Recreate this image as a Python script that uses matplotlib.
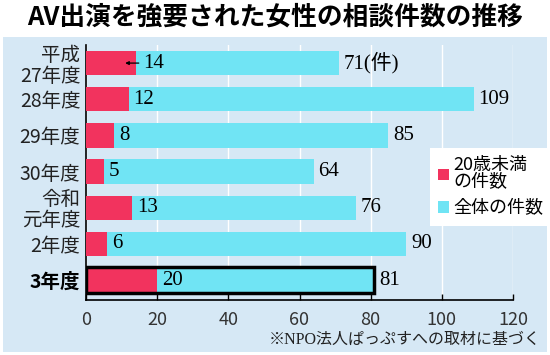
import matplotlib
matplotlib.use('Agg')
import matplotlib.pyplot as plt
from matplotlib.patches import Rectangle, Patch
import numpy as np

# data
years = ['平成\n27年度', '28年度', '29年度', '30年度', '令和\n元年度', '2年度', '3年度']
under20 = [14, 12, 8, 5, 13, 6, 20]
total = [71, 109, 85, 64, 76, 90, 81]
xticks = [0, 20, 40, 60, 80, 100, 120]

PINK = '#f2335e'
CYAN = '#70e4f4'
BG = '#d6e8f5'
JP = ['Noto Sans CJK JP', 'DejaVu Sans']
SERIF = ['Liberation Serif', 'Noto Sans CJK JP']

plt.rcParams['font.family'] = JP

fig = plt.figure(figsize=(5.5, 3.55), dpi=100)
fig.patch.set_facecolor('white')
# light blue panel behind the chart
fig.patches.append(Rectangle((3 / 550, 3 / 355), 544 / 550, 315 / 355,
                             transform=fig.transFigure, facecolor=BG,
                             edgecolor='none', zorder=-5))

fig.text(0.5, 1 - 17 / 355, 'AV出演を強要された女性の相談件数の推移',
         ha='center', va='center', fontsize=18.5, fontweight='bold')

ax = fig.add_axes([86 / 550, 1 - 300 / 355, 427 / 550, 255 / 355])
ax.set_facecolor('none')

y = np.arange(len(years))
h = 0.67
ax.barh(y, total, height=h, color=CYAN, zorder=2)
ax.barh(y, under20, height=h, color=PINK, zorder=3)

# box around latest year
last = len(years) - 1
ax.add_patch(Rectangle((0, last - h / 2 - 0.02), total[last], h + 0.04,
                       facecolor='none', edgecolor='black', linewidth=2.5,
                       zorder=4))

for i in range(len(years)):
    if i == 0:
        ax.annotate(str(under20[i]), xy=(under20[i] - 3, i),
                    xytext=(under20[i] + 2.0, i), va='center', ha='left',
                    fontsize=15, family=SERIF, zorder=5,
                    arrowprops=dict(arrowstyle='-|>', color='black', lw=0.9,
                                    mutation_scale=5, shrinkA=1, shrinkB=0))
        ax.text(total[i] + 1.3, i, f'{total[i]}(件)', va='center',
                ha='left', fontsize=15, family=SERIF)
    else:
        ax.text(under20[i] + 1.3, i, str(under20[i]), va='center',
                ha='left', fontsize=15, family=SERIF, zorder=5)
        ax.text(total[i] + 1.3, i, str(total[i]), va='center',
                ha='left', fontsize=15, family=SERIF)

ax.set_xlim(0, 120)
ax.set_ylim(last + 0.55, -0.5)
ax.set_xticks(xticks)
ax.set_xticklabels([str(t) for t in xticks], fontsize=13, color='#333333')
ax.set_yticks(y)
ax.set_yticklabels(years, fontsize=14, linespacing=1.0, color='#222222')
ax.get_yticklabels()[last].set_fontweight('bold')
ax.get_yticklabels()[last].set_color('black')
ax.tick_params(axis='y', length=0, pad=4)
ax.tick_params(axis='x', direction='in', length=4, width=1, pad=8)
ax.grid(axis='x', color='white', linewidth=1, zorder=1)
ax.set_axisbelow(True)
for s in ['top', 'right']:
    ax.spines[s].set_visible(False)
for s in ['left', 'bottom']:
    ax.spines[s].set_linewidth(1.2)

handles = [Patch(facecolor=PINK, edgecolor='none'),
           Patch(facecolor=CYAN, edgecolor='none')]
leg = fig.legend(handles, ['20歳未満\nの件数', '全体の件数'],
                 loc='upper left', bbox_to_anchor=(421 / 550, 1 - 139 / 355),
                 fontsize=13, frameon=True, fancybox=False,
                 handlelength=0.6, handleheight=0.6, handletextpad=0.25,
                 labelspacing=0.45, borderpad=0.45, framealpha=1)
for t in leg.get_texts():
    t.set_linespacing(0.95)
leg.get_frame().set_edgecolor('none')
leg.set_zorder(6)

fig.text(541 / 550, 1 - 340 / 355, '※NPO法人ぱっぷすへの取材に基づく',
         ha='right', va='center', fontsize=11.5, family=SERIF, color='#222222')

fig.savefig('out.png', dpi=100)
